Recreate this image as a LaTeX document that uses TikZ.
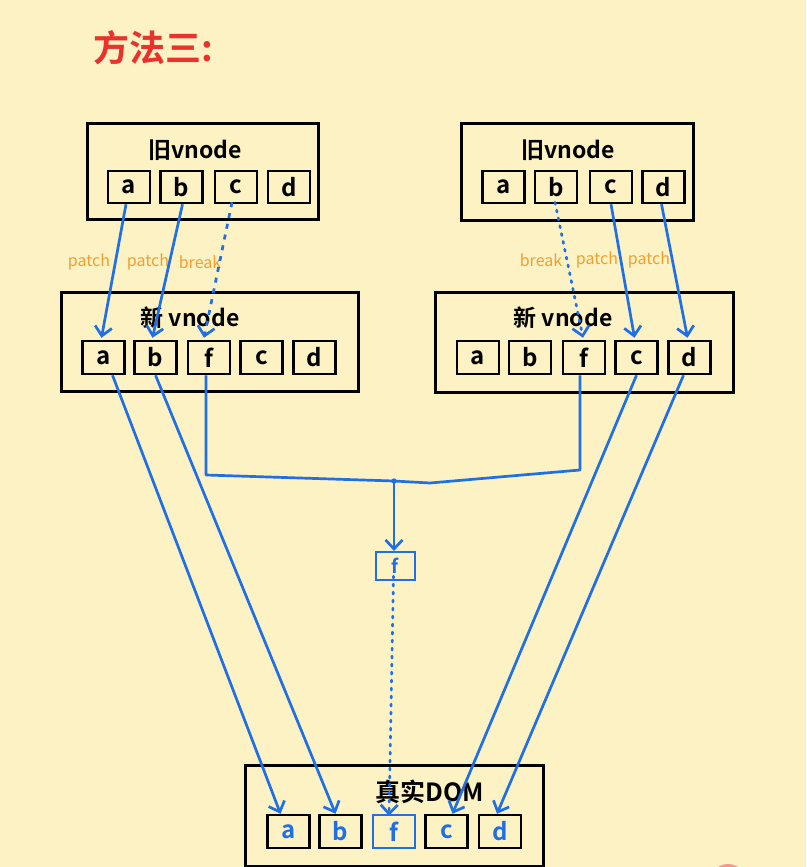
\documentclass[tikz,border=0pt]{standalone}
\usepackage{fontspec}
\setmainfont{Noto Sans CJK SC}[BoldFont={Noto Sans CJK SC Bold}]
\usetikzlibrary{arrows.meta}
\definecolor{bg}{HTML}{FCF2C4}
\definecolor{penblue}{HTML}{1F6FE5}
\definecolor{penorange}{HTML}{F0A030}
\definecolor{penred}{HTML}{E8322B}
\definecolor{pink}{HTML}{F29A90}
\begin{document}
\begin{tikzpicture}[x=1pt,y=-1pt,
  outerbox/.style={draw=black,line width=3pt,minimum width=#1,minimum height=98,inner sep=0},
  cell/.style={draw=black,line width=2.5pt,minimum width=42,minimum height=32,inner sep=0,font=\fontsize{24}{24}\selectfont\bfseries},
  bluecell/.style={cell,draw=penblue,text=penblue},
  blueletter/.style={cell,text=penblue},
  boxtitle/.style={font=\fontsize{23}{23}\selectfont\bfseries,inner sep=0},
  lbl/.style={text=penorange,font=\fontsize{16}{16}\selectfont,inner sep=0},
  arr/.style={draw=penblue,line width=2.7pt,-{Straight Barb[length=9pt,width=17pt]}},
  dasharr/.style={arr,dash pattern=on 5pt off 6pt},
  dotarr/.style={arr,dash pattern=on 2pt off 6pt,line cap=round},
  wire/.style={draw=penblue,line width=2.7pt,line join=round}
]
\useasboundingbox (0,0) rectangle (806,867);
\fill[bg] (0,0) rectangle (806,867);
\begin{scope}
\clip (0,0) rectangle (806,867);
\fill[pink] (728,882) circle (18);
\end{scope}

% title
\node[text=penred,font=\fontsize{36}{36}\selectfont\bfseries,inner sep=0] (title) at (153,48) {方法三:};

% outer boxes
\node[outerbox=231,minimum height=96] (oldL) at (202.5,171) {};
\node[outerbox=232,minimum height=97] (oldR) at (577,171.5) {};
\node[outerbox=297,minimum height=99] (newL) at (209.5,341.5) {};
\node[outerbox=298,minimum height=100] (newR) at (584,342) {};
\node[outerbox=298,minimum height=101] (dom) at (394,815.5) {};

% box titles
\node[boxtitle] (tOldL) at (195,150) {旧vnode};
\node[boxtitle] (tOldR) at (568,150) {旧vnode};
\node[boxtitle] (tNewL) at (190,318) {新 vnode};
\node[boxtitle] (tNewR) at (563,318) {新 vnode};
\node[boxtitle,font=\fontsize{25}{25}\selectfont\bfseries] (tDom) at (430,792) {真实DOM};

% old left cells
\node[cell] (oLa) at (129,187) {a};
\node[cell] (oLb) at (181.5,187) {b};
\node[cell] (oLc) at (236,187) {c};
\node[cell] (oLd) at (289,187) {d};
% old right cells
\node[cell] (oRa) at (503.5,187) {a};
\node[cell] (oRb) at (556,187) {b};
\node[cell] (oRc) at (611,187) {c};
\node[cell] (oRd) at (663.5,187) {d};
% new left cells
\node[cell,minimum height=33] (nLa) at (103.5,357.5) {a};
\node[cell,minimum height=33] (nLb) at (155.5,357.5) {b};
\node[cell,minimum height=33] (nLf) at (209,357.5) {f};
\node[cell,minimum height=33] (nLc) at (261.5,357.5) {c};
\node[cell,minimum height=33] (nLd) at (314.5,357.5) {d};
% new right cells
\node[cell,minimum height=33] (nRa) at (478,357.5) {a};
\node[cell,minimum height=33] (nRb) at (530,357.5) {b};
\node[cell,minimum height=33] (nRf) at (584,357.5) {f};
\node[cell,minimum height=33] (nRc) at (636.5,357.5) {c};
\node[cell,minimum height=33] (nRd) at (689.5,357.5) {d};
% real DOM cells
\node[blueletter,minimum height=33] (da) at (288.5,831.5) {a};
\node[blueletter,minimum height=33] (db) at (340.5,831.5) {b};
\node[bluecell,minimum height=33] (df) at (394,831.5) {f};
\node[blueletter,minimum height=33] (dc) at (446.5,831.5) {c};
\node[blueletter,minimum height=33] (dd) at (500,831.5) {d};
% middle f
\node[bluecell,minimum width=39,minimum height=28,line width=2.2pt,font=\fontsize{19}{19}\selectfont\bfseries] (mf) at (395.5,566) {f};

% labels
\node[lbl] (l1) at (89,262) {patch};
\node[lbl] (l2) at (148,262) {patch};
\node[lbl] (l3) at (200,262) {break};
\node[lbl] (r1) at (541,260) {break};
\node[lbl] (r2) at (597,260) {patch};
\node[lbl] (r3) at (649,260) {patch};

% old -> new arrows
\draw[arr] ([xshift=-3pt]oLa.south) -- ([xshift=-2pt,yshift=2pt]nLa.north);
\draw[arr] ([xshift=1pt]oLb.south) -- ([xshift=-3pt,yshift=2pt]nLb.north);
\draw[dasharr] ([xshift=-4pt,yshift=2pt]oLc.south) -- ([xshift=-5pt,yshift=2pt]nLf.north);
\draw[dotarr] ([xshift=-1pt,yshift=2pt]oRb.south) -- ([xshift=-1pt,yshift=2pt]nRf.north);
\draw[arr] (oRc.south) -- ([xshift=-2pt,yshift=2pt]nRc.north);
\draw[arr] ([xshift=-2pt]oRd.south) -- ([xshift=-2pt,yshift=2pt]nRd.north);

% merge of the two f
\coordinate (jl) at (206,475);
\coordinate (jn) at (394,481);
\coordinate (jm) at (430,483);
\coordinate (jr) at (580,470);
\draw[wire] ([xshift=-3pt]nLf.south) -- (jl) -- (jn) -- (jm) -- (jr) -- ([xshift=-4pt]nRf.south);
\fill[penblue] (jn) circle (2.7pt);
\draw[arr] (jn) -- ([xshift=-1.5pt]mf.north);
\draw[dotarr] ([xshift=-2pt,yshift=5pt]mf.south) -- ([xshift=-5pt,yshift=-2pt]df.north);

% new -> real DOM
\draw[arr] ([xshift=9pt]nLa.south) -- ([xshift=-8pt]da.north);
\draw[arr] (nLb.south) -- ([xshift=-5pt]db.north);
\draw[arr] (nRc.south) -- ([xshift=6pt]dc.north);
\draw[arr] ([xshift=-6pt]nRd.south) -- ([xshift=-3pt]dd.north);
\end{tikzpicture}
\end{document}
